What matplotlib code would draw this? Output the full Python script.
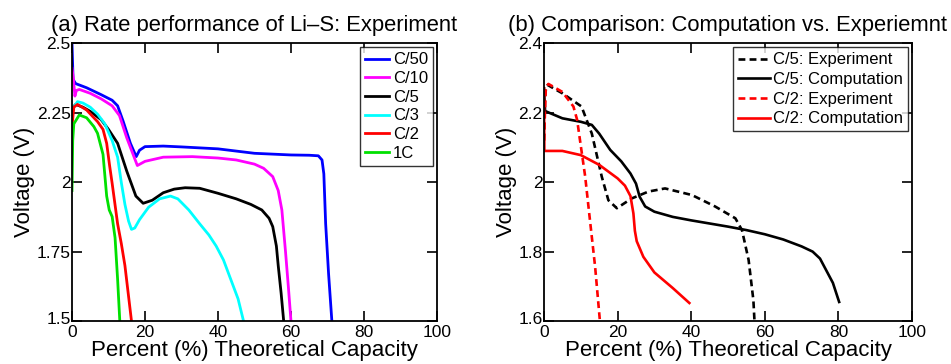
import matplotlib
matplotlib.use("Agg")
import matplotlib.pyplot as plt
from matplotlib.transforms import ScaledTranslation

plt.rcParams['font.family'] = ['Liberation Sans', 'DejaVu Sans']

# ---- Panel (a) data: rate performance (Percent capacity, Voltage)
c50_x = [0, 0.3, 1, 4, 8, 11, 12.5, 14, 16, 17.6, 18.5, 20, 25, 30, 40, 50, 60, 65, 67.5, 68.5, 69, 69.5, 70.3, 71.2]
c50_y = [2.5, 2.37, 2.355, 2.34, 2.315, 2.295, 2.275, 2.22, 2.14, 2.092, 2.115, 2.128, 2.13, 2.127, 2.12, 2.104, 2.098, 2.097, 2.095, 2.08, 2.03, 1.85, 1.67, 1.5]
c10_x = [0, 0.4, 0.8, 1.2, 2, 5, 8, 11, 13, 15, 17.9, 20, 25, 33, 40, 45, 50, 52.5, 55, 56.5, 57.5, 58.5, 59.3, 60]
c10_y = [2.41, 2.37, 2.31, 2.33, 2.334, 2.32, 2.30, 2.275, 2.24, 2.16, 2.06, 2.075, 2.09, 2.092, 2.087, 2.08, 2.065, 2.05, 2.02, 1.97, 1.9, 1.75, 1.62, 1.5]
c5_x = [0.3, 1, 3, 5, 8, 10, 12.5, 15, 17.5, 19.5, 22, 25, 28, 31, 35, 40, 45, 49, 52, 54, 55, 56, 56.5, 57.3, 58]
c5_y = [2.27, 2.28, 2.27, 2.255, 2.225, 2.19, 2.14, 2.04, 1.95, 1.924, 1.935, 1.962, 1.975, 1.98, 1.978, 1.96, 1.94, 1.92, 1.90, 1.87, 1.84, 1.77, 1.7, 1.6, 1.5]
c3_x = [0.5, 1.5, 3, 5, 7, 9, 11, 12.5, 13.5, 14.5, 15.5, 16.3, 17.2, 18.5, 21, 24, 27, 29, 32, 35, 37.5, 39.5, 41.5, 43.5, 45.5, 47]
c3_y = [2.27, 2.29, 2.285, 2.27, 2.245, 2.21, 2.15, 2.09, 2.0, 1.92, 1.86, 1.83, 1.835, 1.865, 1.91, 1.94, 1.95, 1.94, 1.9, 1.85, 1.81, 1.77, 1.72, 1.65, 1.58, 1.5]
c2_x = [0, 0.5, 1.5, 4, 7, 8.5, 9.5, 10.3, 11, 12.5, 13.5, 14.5, 15.4, 16.3]
c2_y = [2.2, 2.27, 2.28, 2.26, 2.218, 2.19, 2.14, 2.06, 1.996, 1.85, 1.78, 1.70, 1.6, 1.5]
c1_x = [0, 0.2, 0.5, 2, 4, 6, 7, 8.5, 9.5, 10.2, 11, 11.8, 12.5, 13.1]
c1_y = [1.97, 2.15, 2.21, 2.242, 2.232, 2.2, 2.176, 2.10, 1.95, 1.9, 1.876, 1.8, 1.65, 1.5]

series_a = [
    ("C/50", c50_x, c50_y, "#0000ff"),
    ("C/10", c10_x, c10_y, "#ff00ff"),
    ("C/5", c5_x, c5_y, "#000000"),
    ("C/3", c3_x, c3_y, "#00ffff"),
    ("C/2", c2_x, c2_y, "#ff0000"),
    ("1C", c1_x, c1_y, "#00e000"),
]

# ---- Panel (b) data: computation vs experiment
c5e_x = [0, 0.3, 1, 5, 10.2, 13, 15.7, 17.5, 19.8, 23.8, 28.4, 32.9, 40.2, 46.5, 52, 53.8, 55.6, 56.9, 57.2]
c5e_y = [2.12, 2.26, 2.28, 2.256, 2.218, 2.14, 2.016, 1.948, 1.925, 1.953, 1.973, 1.982, 1.963, 1.93, 1.896, 1.862, 1.776, 1.66, 1.6]
c5c_x = [0, 0.3, 5, 10, 13, 15, 18, 21, 23.5, 25, 26, 27.5, 30, 35, 40, 50, 55, 60, 65, 70, 73, 75, 77, 78.5, 80.2]
c5c_y = [2.27, 2.205, 2.184, 2.174, 2.165, 2.14, 2.093, 2.06, 2.025, 1.996, 1.958, 1.93, 1.915, 1.90, 1.89, 1.872, 1.862, 1.85, 1.835, 1.815, 1.80, 1.78, 1.74, 1.71, 1.655]
c2e_x = [0, 0.5, 1.2, 5, 8, 9, 9.8, 11.2, 12.5, 13.9, 15.2]
c2e_y = [2.12, 2.27, 2.283, 2.26, 2.218, 2.18, 2.12, 2.016, 1.89, 1.756, 1.6]
c2c_x = [0, 0.1, 5, 10, 15, 20, 22, 23.5, 24.3, 24.7, 25.2, 27, 30, 35, 39.5]
c2c_y = [2.27, 2.09, 2.09, 2.078, 2.05, 2.011, 1.99, 1.96, 1.91, 1.86, 1.83, 1.785, 1.74, 1.695, 1.652]

series_b = [
    ("C/5: Experiment", c5e_x, c5e_y, "#000000", (0, (2.6, 1.6))),
    ("C/5: Computation", c5c_x, c5c_y, "#000000", "-"),
    ("C/2: Experiment", c2e_x, c2e_y, "#ff0000", (0, (2.6, 1.6))),
    ("C/2: Computation", c2c_x, c2c_y, "#ff0000", "-"),
]

fig = plt.figure(figsize=(9.51, 3.64), dpi=100)
axA = fig.add_axes([0.0757, 0.118, 0.3838, 0.763])
axB = fig.add_axes([0.572, 0.118, 0.387, 0.763])

for name, x, y, c in series_a:
    axA.plot(x, y, color=c, lw=2.0, label=name)
for name, x, y, c, ls in series_b:
    axB.plot(x, y, color=c, lw=1.9, ls=ls, label=name)

axA.set_xlim(0, 100)
axA.set_ylim(1.5, 2.5)
axA.set_yticks([1.5, 1.75, 2.0, 2.25, 2.5])
axA.set_yticklabels(["1.5", "1.75", "2", "2.25", "2.5"])
axB.set_xlim(0, 100)
axB.set_ylim(1.6, 2.4)
axB.set_yticks([1.6, 1.8, 2.0, 2.2, 2.4])
axB.set_yticklabels(["1.6", "1.8", "2", "2.2", "2.4"])

for ax in (axA, axB):
    ax.set_xticks([0, 20, 40, 60, 80, 100])
    ax.tick_params(direction="in", top=True, right=True, length=7, width=1.2,
                   labelsize=12.5)
    ax.tick_params(axis="x", pad=3)
    ax.tick_params(axis="y", pad=1)
    for s in ax.spines.values():
        s.set_linewidth(1.3)
    ax.set_xlabel("Percent (%) Theoretical Capacity", fontsize=16, labelpad=0)
    ax.set_ylabel("Voltage (V)", fontsize=16, labelpad=1)
    # lift the lowest y tick label slightly so it clears the "0" below it
    lab = ax.get_yticklabels()[0]
    lab.set_transform(lab.get_transform() + ScaledTranslation(0, 2.5 / 72, fig.dpi_scale_trans))

axA.set_title("(a) Rate performance of Li\u2013S: Experiment", fontsize=15.8, pad=9)
axB.set_title("(b) Comparison: Computation vs. Experiemnt", fontsize=15.8, pad=9)

legA = axA.legend(loc="upper right", fontsize=12, frameon=True, fancybox=False,
                  edgecolor="black", handlelength=1.4, handletextpad=0.25,
                  borderpad=0.3, labelspacing=0.22, borderaxespad=0.25)
legA.get_frame().set_linewidth(1.0)
legB = axB.legend(loc="upper right", fontsize=12, frameon=True, fancybox=False,
                  edgecolor="black", handlelength=1.9, handletextpad=0.2,
                  borderpad=0.3, labelspacing=0.28, borderaxespad=0.25)
legB.get_frame().set_linewidth(1.0)

fig.savefig("out.png", dpi=100)
